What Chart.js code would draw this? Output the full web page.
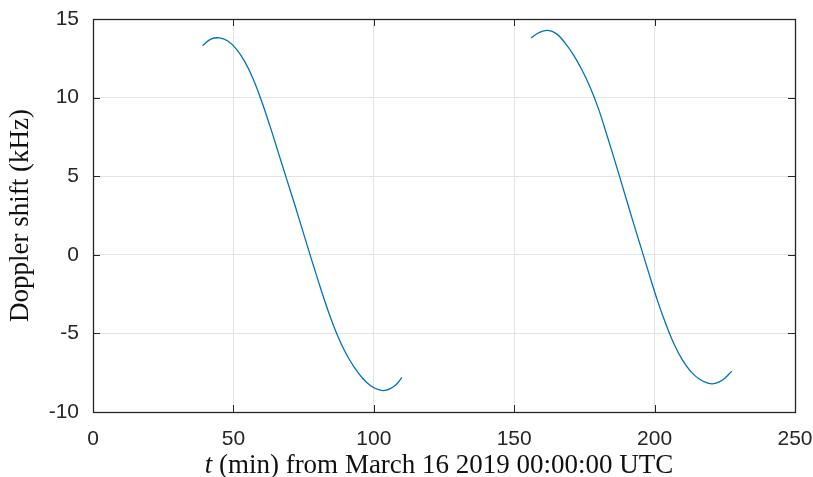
<!DOCTYPE html>
<html>
<head>
<meta charset="utf-8">
<script src="https://cdn.jsdelivr.net/npm/chart.js@4/dist/chart.umd.min.js"></script>
<style>
html,body{margin:0;padding:0;background:#fff;}
#wrap{width:813px;height:477px;position:relative;}
</style>
</head>
<body>
<div id="wrap"><canvas id="c" width="813" height="477"></canvas></div>
<script>
const pass1T = [39, 42, 45, 48, 51, 54, 57, 60, 63, 66, 69, 72, 75, 78, 81, 84, 87, 90, 93, 96, 99, 102, 104, 106, 108, 110];
const pass1V = [13.3, 13.72, 13.8, 13.6, 13.1, 12.3, 11.2, 9.8, 8.2, 6.5, 4.8, 3.1, 1.35, -0.4, -2.1, -3.7, -5.1, -6.25, -7.15, -7.85, -8.35, -8.6, -8.63, -8.5, -8.25, -7.8];
const pass2T = [156, 159, 162, 165, 168, 171, 174, 177, 180, 183, 186, 189, 192, 195, 198, 201, 204, 207, 210, 213, 216, 219, 221, 223, 225, 227.5];
const pass2V = [13.8, 14.15, 14.27, 14.07, 13.5, 12.75, 11.8, 10.68, 9.3, 7.62, 5.88, 4.1, 2.3, 0.55, -1.2, -2.9, -4.4, -5.7, -6.72, -7.45, -7.92, -8.16, -8.2, -8.08, -7.85, -7.4];
const xTicks = [0, 50, 100, 150, 200, 250];
const yTicks = [-10, -5, 0, 5, 10, 15];
const xLabelVar = 't';
const xLabelRest = ' (min) from March 16 2019 00:00:00 UTC';
const yLabel = 'Doppler shift (kHz)';

const toPts = (t, v) => t.map((x, i) => ({x: x, y: v[i]}));
const serif = '"Liberation Serif", "DejaVu Serif", serif';
const sans = '"Liberation Sans", Arial, sans-serif';

const boxTicks = {
  id: 'boxTicks',
  afterDatasetsDraw(chart) {
    const {ctx, chartArea: a, scales: {x, y}} = chart;
    ctx.save();
    ctx.strokeStyle = '#262626';
    ctx.lineWidth = 1;
    const L = 7;
    ctx.beginPath();
    xTicks.forEach(v => {
      const px = Math.round(x.getPixelForValue(v)) + 0.5;
      ctx.moveTo(px, a.bottom); ctx.lineTo(px, a.bottom - L);
      ctx.moveTo(px, a.top); ctx.lineTo(px, a.top + L);
    });
    yTicks.forEach(v => {
      const py = Math.round(y.getPixelForValue(v)) + 0.5;
      ctx.moveTo(a.left, py); ctx.lineTo(a.left + L, py);
      ctx.moveTo(a.right, py); ctx.lineTo(a.right - L, py);
    });
    ctx.stroke();
    ctx.lineWidth = 1.3;
    ctx.strokeRect(Math.round(a.left) + 0.5, Math.round(a.top) + 0.5, Math.round(a.right - a.left), Math.round(a.bottom - a.top));
    // x title with italic t
    ctx.fillStyle = '#111';
    ctx.textBaseline = 'middle';
    const fN = '27px ' + serif;
    const fI = 'italic 27px ' + serif;
    ctx.font = fI; const w1 = ctx.measureText(xLabelVar).width;
    ctx.font = fN; const w2 = ctx.measureText(xLabelRest).width;
    const cx = (a.left + a.right) / 2 - 5;
    const sx = cx - (w1 + w2) / 2;
    const ty = 466;
    ctx.textAlign = 'left';
    ctx.font = fI; ctx.fillText(xLabelVar, sx, ty);
    ctx.font = fN; ctx.fillText(xLabelRest, sx + w1, ty);
    ctx.restore();
  }
};

new Chart(document.getElementById('c'), {
  type: 'line',
  data: {
    datasets: [
      {data: toPts(pass1T, pass1V), borderColor: '#0072BD', borderWidth: 1.3, pointRadius: 0, tension: 0.4, fill: false},
      {data: toPts(pass2T, pass2V), borderColor: '#0072BD', borderWidth: 1.3, pointRadius: 0, tension: 0.4, fill: false}
    ]
  },
  options: {
    responsive: false,
    animation: false,
    layout: {padding: {left: 0, right: 18, top: 19, bottom: 0}},
    plugins: {legend: {display: false}, tooltip: {enabled: false}},
    scales: {
      x: {
        type: 'linear', min: 0, max: 250,
        afterBuildTicks: s => { s.ticks = xTicks.map(v => ({value: v})); },
        afterFit: s => { s.height = 65; s.paddingLeft = 0; s.paddingRight = 0; },
        grid: {color: '#e3e3e3', lineWidth: 1, drawTicks: false},
        border: {display: false},
        ticks: {color: '#262626', padding: 15, font: {family: sans, size: 21}}
      },
      y: {
        type: 'linear', min: -10, max: 15,
        afterBuildTicks: s => { s.ticks = yTicks.map(v => ({value: v})); },
        afterFit: s => { s.width = 93; s.paddingTop = 0; s.paddingBottom = 0; },
        grid: {color: '#e3e3e3', lineWidth: 1, drawTicks: false},
        border: {display: false},
        ticks: {color: '#262626', padding: 14, font: {family: sans, size: 21}},
        title: {display: true, text: yLabel, color: '#111', padding: {top: 5, bottom: 0}, font: {family: serif, size: 27, weight: 'normal'}}
      }
    }
  },
  plugins: [boxTicks]
});
</script>
</body>
</html>
